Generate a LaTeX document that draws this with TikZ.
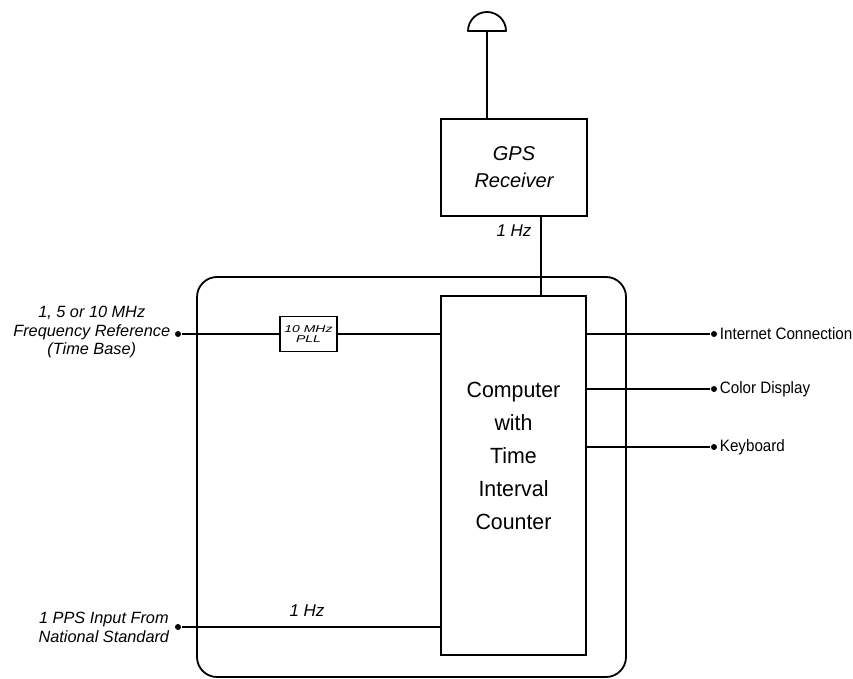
\documentclass[tikz,border=0pt]{standalone}
\usepackage{fontspec}
\setmainfont{Liberation Sans}
\newfontfamily\narrowfont[FakeStretch=0.92]{Liberation Sans}
\newfontfamily\wideplfont[FakeStretch=1.4]{Liberation Sans}
\newfontfamily\compfont[FakeStretch=0.97]{Liberation Sans}
\begin{document}
\begin{tikzpicture}[x=1pt,y=-1pt,line width=1.8pt,
  box/.style={draw,line width=1.8pt,inner sep=0pt},
  dot/.style={circle,fill,inner sep=0pt,minimum size=6pt},
  leftlbl/.style={font=\itshape\fontsize{16.3}{18.7}\selectfont,align=center,inner sep=0pt},
  rightlbl/.style={font=\narrowfont\fontsize{16.5}{19}\selectfont,inner sep=0pt,anchor=west},
  hzlbl/.style={font=\itshape\fontsize{17}{19}\selectfont,inner sep=0pt}]
\useasboundingbox (0,0) rectangle (853,679);
% outer enclosure
\node[box,rounded corners=20pt,minimum width=429pt,minimum height=400pt] (outer) at (411.5,477) {};
% GPS receiver
\node[box,minimum width=146pt,minimum height=97pt,align=center,
      font=\itshape\fontsize{20}{27}\selectfont] (gps) at (514,167.5) {GPS\\Receiver};
% computer
\node[box,fill=white,minimum width=145pt,minimum height=359pt] (comp) at (513.5,475.5) {};
\node[align=center,inner sep=0pt,font=\compfont\fontsize{22}{33}\selectfont] (comptext) at (513.5,456) {Computer\\with\\Time\\Interval\\Counter};
% PLL
\node[box,fill=white,minimum width=57pt,minimum height=35pt,align=center,
      font=\wideplfont\itshape\fontsize{10}{10.5}\selectfont] (pll) at (308.5,334) {10 MHz\\PLL};
% antenna
\coordinate (ant) at (487,31);
\draw[line join=round] (468,31) arc[start angle=180,end angle=360,radius=19] -- cycle;
\draw (ant) -- (ant |- gps.north);
% GPS to computer
\draw ([xshift=27pt]gps.south) -- ([xshift=27.5pt]comp.north);
\node[hzlbl] (hz1) at (514,231) {1 Hz};
% frequency reference
\node[dot] (fdot) at (178,334) {};
\draw (fdot) -- (pll.west);
\draw (pll.east) -- (comp.west |- pll.east);
\node[leftlbl,anchor=east] (flbl) at (171,332) {1, 5 or 10 MHz\\Frequency Reference\\(Time Base)};
% PPS input
\node[dot] (pdot) at (178,627) {};
\draw (pdot) -- (comp.west |- pdot);
\node[leftlbl,anchor=east] (plbl) at (170,627.5) {1 PPS Input From\\National Standard};
\node[hzlbl] (hz2) at (307,611) {1 Hz};
% right outputs
\node[dot] (r1) at (714,334) {};
\node[dot] (r2) at (714,389) {};
\node[dot] (r3) at (714,447) {};
\draw (comp.east |- r1) -- (r1);
\draw (comp.east |- r2) -- (r2);
\draw (comp.east |- r3) -- (r3);
\node[rightlbl] (l1) at (719,334) {Internet Connection};
\node[rightlbl] (l2) at (719,389) {Color Display};
\node[rightlbl] (l3) at (719,447) {Keyboard};
\end{tikzpicture}
\end{document}
